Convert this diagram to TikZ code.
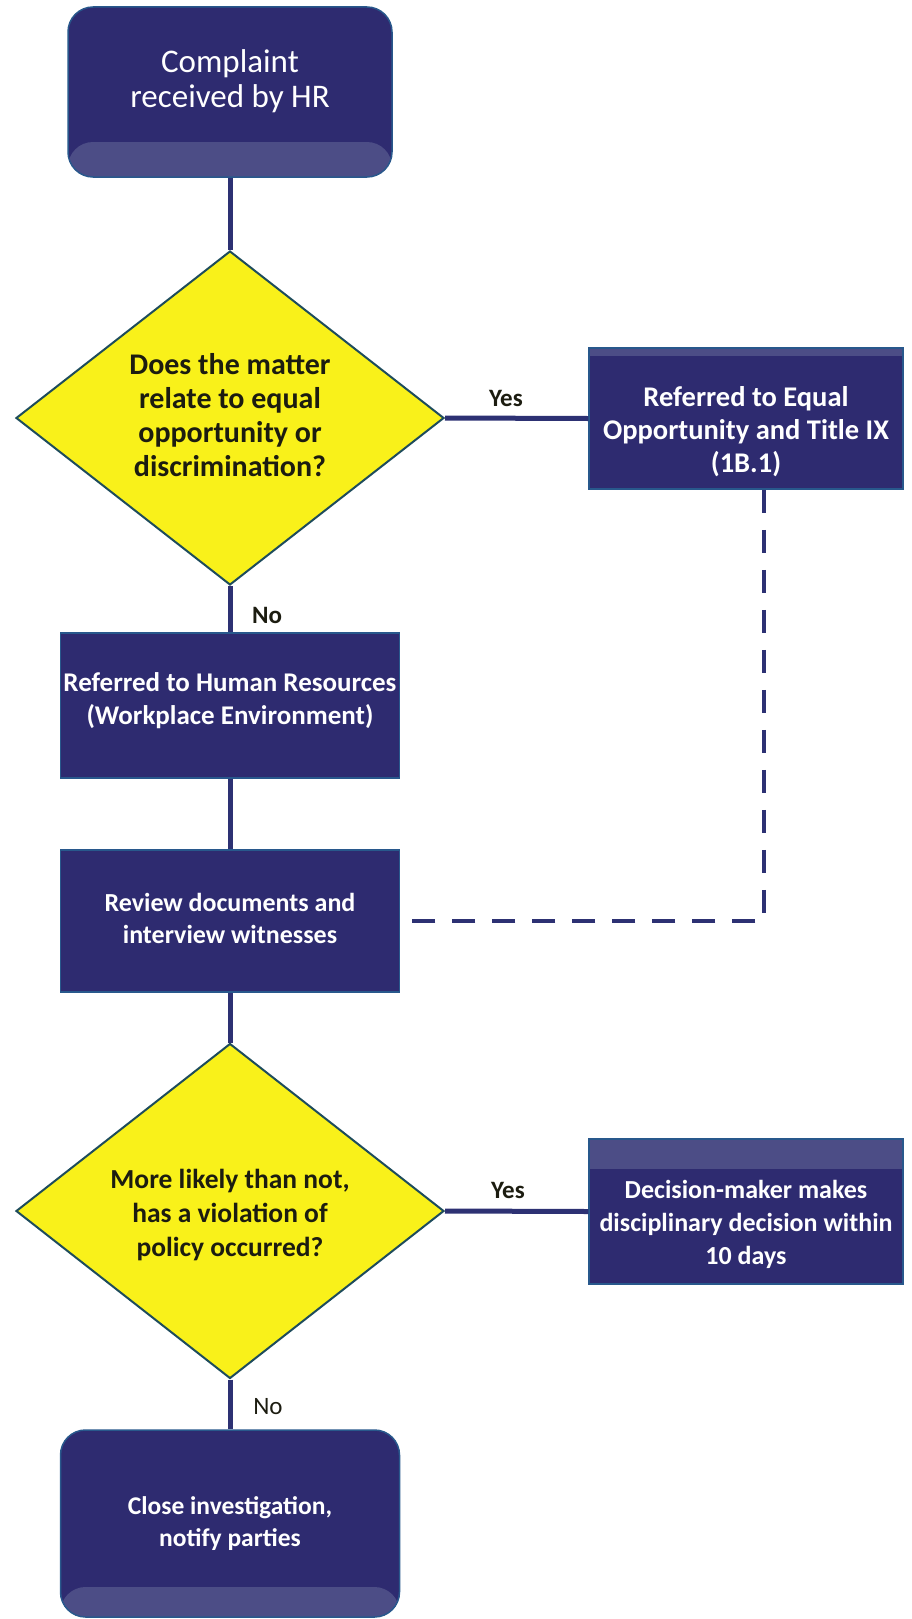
\documentclass[tikz,border=0pt]{standalone}
\usepackage{fontspec}
\setmainfont{Carlito}
\usetikzlibrary{shapes.geometric}
\definecolor{boxfill}{RGB}{46,43,112}
\definecolor{bandfill}{RGB}{76,77,134}
\definecolor{boxline}{RGB}{40,88,140}
\definecolor{conn}{RGB}{45,49,115}
\definecolor{dfill}{RGB}{249,241,26}
\definecolor{dline}{RGB}{30,76,92}
\definecolor{dtext}{RGB}{28,28,16}
\begin{document}
\begin{tikzpicture}[x=1pt,y=-1pt,
  box/.style={rectangle,fill=boxfill,draw=boxline,line width=1.5pt,inner sep=0pt},
  rbox/.style={box,rounded corners=25pt},
  botband/.style={path picture={\fill[bandfill] (path picture bounding box.south west) rectangle ([yshift=#1]path picture bounding box.south east);}},
  topband/.style={path picture={\fill[bandfill] (path picture bounding box.north west) rectangle ([yshift=-#1]path picture bounding box.north east);}},
  dia/.style={diamond,fill=dfill,draw=dline,line width=2pt,inner sep=0pt,minimum width=428pt,minimum height=334pt},
  wtxt/.style={text=white,align=center,font=\bfseries\fontsize{26}{32}\selectfont},
  wtxtr/.style={text=white,align=center,font=\fontsize{26}{32}\selectfont},
  dtxt/.style={text=dtext,align=center,font=\bfseries\fontsize{29}{34}\selectfont},
  lbl/.style={text=dtext,font=\bfseries\fontsize{25}{30}\selectfont},
  lblr/.style={text=dtext,font=\fontsize{25}{30}\selectfont},
  connector/.style={draw=conn,line width=5pt},
  dconn/.style={draw=conn,line width=4.5pt,dash pattern=on 23pt off 17pt}]
\useasboundingbox (0,0) rectangle (912,1619);

% boxes
\node[rbox,botband=35pt,minimum width=324pt,minimum height=170pt] (top) at (230,92) {};
\node[wtxtr,font=\fontsize{33}{35}\selectfont] (toptxt) at (230,81) {Complaint\\received by HR};

\node[dia] (d1) at (230,418) {};
\node[dtxt,font=\bfseries\fontsize{30}{34}\selectfont] (d1txt) at (230,415) {Does the matter\\relate to equal\\opportunity or\\discrimination?};

\node[box,topband=8pt,minimum width=314pt,minimum height=141pt] (r1) at (746,418.5) {};
\node[wtxt,font=\bfseries\fontsize{28.5}{33}\selectfont] (r1txt) at (746,432) {Referred to Equal\\Opportunity and Title IX\\(1B.1)};

\node[box,minimum width=339pt,minimum height=145pt] (hr) at (230,705.5) {};
\node[wtxt,font=\bfseries\fontsize{27}{33}\selectfont] (hrtxt) at (230,701) {Referred to Human Resources\\(Workplace Environment)};

\node[box,minimum width=339pt,minimum height=142pt] (rev) at (230,921) {};
\node[wtxt] (revtxt) at (230,918) {Review documents and\\interview witnesses};

\node[dia,minimum height=335pt] (d2) at (230,1211) {};
\node[dtxt,font=\bfseries\fontsize{27.5}{34}\selectfont] (d2txt) at (230,1215) {More likely than not,\\has a violation of\\policy occurred?};

\node[box,topband=30pt,minimum width=314pt,minimum height=145pt] (r2) at (746,1211.5) {};
\node[wtxt,font=\bfseries\fontsize{26}{33}\selectfont] (r2txt) at (746,1224) {Decision-maker makes\\disciplinary decision within\\10 days};

\node[rbox,botband=30pt,minimum width=339pt,minimum height=187pt] (close) at (230,1523.5) {};
\node[wtxt,font=\bfseries\fontsize{25.5}{32}\selectfont] (closetxt) at (230,1524) {Close investigation,\\notify parties};

% connectors
\draw[connector] (top.south) -- (d1.north);
\draw[connector] (d1.east) -- (r1.west);
\draw[connector] (d1.south) -- (hr.north);
\draw[connector] (hr.south) -- (rev.north);
\coordinate (dc) at (764,921);
\draw[dconn] (r1.south -| dc) |- (rev.east);
\draw[connector] (rev.south) -- (d2.north);
\draw[connector] (d2.east) -- (r2.west);
\draw[connector] (d2.south) -- (close.north);

% labels
\node[lbl] (yes1) at (506,398) {Yes};
\node[lbl] (no1) at (267,615) {No};
\node[lbl] (yes2) at (508,1190) {Yes};
\node[lblr] (no2) at (268,1407) {No};
\end{tikzpicture}
\end{document}
